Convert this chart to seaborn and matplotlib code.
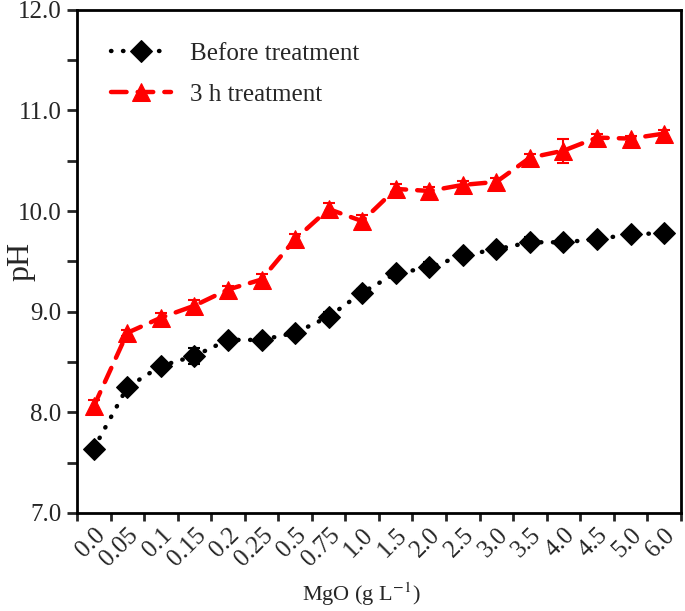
import numpy as np
import pandas as pd
import matplotlib
matplotlib.use("Agg")
import matplotlib.pyplot as plt
import seaborn as sns
from matplotlib.ticker import FixedLocator, NullFormatter, MultipleLocator

# --- data ---
mgo_labels = ['0.0', '0.05', '0.1', '0.15', '0.2', '0.25', '0.5', '0.75', '1.0',
              '1.5', '2.0', '2.5', '3.0', '3.5', '4.0', '4.5', '5.0', '6.0']
ph_before = [7.64, 8.25, 8.46, 8.56, 8.72, 8.72, 8.79, 8.95, 9.19,
             9.38, 9.44, 9.56, 9.62, 9.69, 9.69, 9.72, 9.77, 9.78]
err_before = [0.03, 0.03, 0.03, 0.08, 0.03, 0.04, 0.03, 0.05, 0.04,
              0.03, 0.05, 0.03, 0.03, 0.05, 0.04, 0.03, 0.03, 0.03]
ph_3h = [8.06, 8.79, 8.94, 9.06, 9.22, 9.32, 9.72, 10.02, 9.90,
         10.22, 10.20, 10.26, 10.29, 10.53, 10.60, 10.73, 10.72, 10.77]
err_3h = [0.06, 0.03, 0.05, 0.06, 0.04, 0.05, 0.05, 0.06, 0.06,
          0.05, 0.04, 0.04, 0.04, 0.04, 0.12, 0.04, 0.03, 0.04]

df = pd.DataFrame({
    'pos': np.arange(len(mgo_labels)),
    'Before treatment': ph_before,
    '3 h treatment': ph_3h,
})

sns.set_style("ticks")
plt.rcParams['font.family'] = ['Liberation Serif', 'DejaVu Serif']
plt.rcParams['mathtext.fontset'] = 'stix'

fig = plt.figure(figsize=(6.85, 6.11), dpi=100)
ax = fig.add_axes([0.1124, 0.1604, 0.8816, 0.8236])

# before treatment: black dotted + diamonds
sns.lineplot(data=df, x='pos', y='Before treatment', ax=ax, color='black',
             lw=3.2, linestyle=(0, (0.1, 2.6)), dash_capstyle='round',
             marker='D', markersize=11, markeredgecolor='black',
             label='Before treatment', zorder=3)
ax.errorbar(df['pos'], ph_before, yerr=err_before, fmt='none', ecolor='black',
            elinewidth=1.5, capsize=4, capthick=1.5, zorder=2)

# 3 h treatment: red dashed + triangles
sns.lineplot(data=df, x='pos', y='3 h treatment', ax=ax, color='#ff0000',
             lw=3.2, linestyle=(0, (3.5, 2.5)), dash_capstyle='round',
             marker='^', markersize=13, markeredgecolor='#ff0000',
             label='3 h treatment', zorder=3)
ax.errorbar(df['pos'], ph_3h, yerr=err_3h, fmt='none', ecolor='#ff0000',
            elinewidth=1.5, capsize=4, capthick=1.5, zorder=2)

ax.set_xlim(-0.5, len(mgo_labels) - 0.5)
ax.set_ylim(7.0, 12.0)

# ticks on category boundaries, labels at category centres
ax.xaxis.set_major_locator(FixedLocator(np.arange(-0.5, len(mgo_labels), 1.0)))
ax.xaxis.set_major_formatter(NullFormatter())
ax.xaxis.set_minor_locator(FixedLocator(np.arange(len(mgo_labels))))
ax.set_xticklabels(mgo_labels, minor=True, rotation=45, ha='right',
                   rotation_mode='anchor', fontsize=18)
ax.tick_params(axis='x', which='major', length=6, width=2, direction='out')
ax.tick_params(axis='x', which='minor', length=0, pad=8)

ax.yaxis.set_minor_locator(MultipleLocator(0.5))
ax.set_yticks(np.arange(7, 12.01, 1.0))
ax.set_yticklabels([f'{v:.1f}' for v in np.arange(7, 12.01, 1.0)], fontsize=18)
ax.tick_params(axis='y', which='both', length=7, width=2, direction='out', pad=4)

for s in ax.spines.values():
    s.set_linewidth(2)
    s.set_color('black')

ax.set_xlabel('MgO (g L$^{-1}$)', fontsize=16)
ax.xaxis.set_label_coords(0.47, -0.135)
ax.set_ylabel('pH', fontsize=23)
ax.yaxis.set_label_coords(-0.068, 0.5)

leg = ax.legend(loc='upper left', frameon=False, fontsize=18,
                handlelength=2.4, handletextpad=0.75, labelspacing=0.75,
                borderaxespad=0.0, bbox_to_anchor=(0.04, 0.955))

fig.savefig('out.png', dpi=100)
